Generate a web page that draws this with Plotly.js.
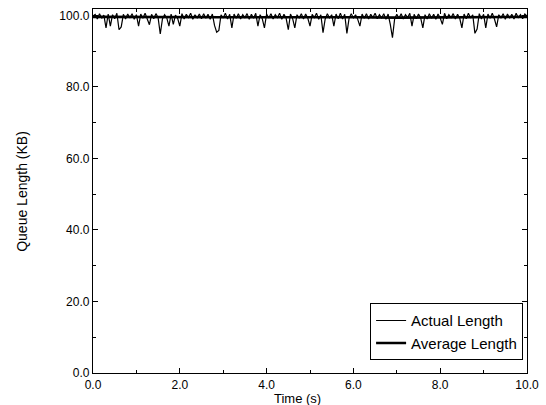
<!DOCTYPE html>
<html>
<head>
<meta charset="utf-8">
<script src="https://cdn.plot.ly/plotly-3.0.1.min.js"></script>
<style>html,body{margin:0;padding:0;background:#fff;}#chart{width:546px;height:405px;}</style>
</head>
<body>
<div id="chart"></div>
<script>
// Sample interval of the actual queue trace (s)
const sampleStep = 0.05;
// Actual queue length (KB), one value per sample
const actualLength = [
  99.8, 100.3, 99.0, 100.5, 99.2, 100.1, 96.5, 100.4, 97.0, 100.2,
  99.1, 100.6, 96.0, 96.8, 100.3, 99.0, 100.4, 99.3, 100.5, 98.9,
  100.2, 97.0, 100.4, 99.2, 100.6, 99.0, 97.4, 100.3, 99.1, 100.5,
  99.4, 94.8, 99.0, 100.2, 99.3, 97.0, 100.4, 97.5, 100.1, 99.2,
  97.0, 100.5, 99.0, 100.3, 99.4, 100.6, 98.9, 100.2, 99.3, 100.4,
  99.1, 100.5, 99.2, 100.3, 98.9, 100.4, 97.2, 95.3, 95.8, 100.2,
  99.3, 100.6, 99.0, 100.3, 96.5, 100.4, 99.2, 100.5, 99.0, 100.2,
  99.4, 100.5, 98.9, 100.3, 99.2, 100.6, 97.0, 100.2, 99.1, 96.5,
  100.4, 99.3, 100.5, 99.0, 100.2, 99.4, 100.6, 98.9, 100.3, 99.2,
  96.0, 100.4, 99.1, 96.5, 100.2, 99.3, 100.5, 99.0, 100.4, 99.2,
  97.0, 100.3, 99.4, 100.6, 98.9, 100.2, 95.2, 99.0, 100.5, 99.3,
  100.2, 97.0, 100.4, 99.1, 100.6, 99.0, 100.3, 95.0, 99.2, 100.5,
  99.3, 100.2, 98.9, 97.0, 100.4, 99.2, 100.5, 99.0, 100.3, 99.4,
  100.6, 99.1, 100.2, 99.3, 100.5, 98.9, 100.4, 97.5, 93.8, 99.0,
  100.3, 99.2, 100.5, 99.0, 100.2, 99.4, 100.6, 97.0, 100.3, 99.1,
  100.4, 99.3, 96.5, 100.2, 99.0, 100.5, 99.2, 100.3, 98.9, 100.4,
  99.3, 97.5, 100.6, 99.1, 100.2, 99.4, 100.5, 99.0, 100.3, 99.2,
  96.5, 100.4, 99.1, 100.6, 99.3, 100.2, 95.0, 96.2, 100.5, 99.0,
  100.3, 96.5, 100.4, 99.2, 100.6, 99.0, 96.8, 100.2, 99.3, 100.5,
  98.9, 100.4, 99.2, 100.3, 99.0, 100.6, 99.3, 100.2, 99.1, 100.4,
  99.8
];
// Average queue length (KB)
const avgTime = [0, 1, 2, 3, 4, 5, 6, 7, 8, 9, 10];
const averageLength = [99.6, 99.5, 99.4, 99.5, 99.5, 99.6, 99.5, 99.4, 99.5, 99.5, 99.6];
// Tick labels
const xTickVals = [0, 2, 4, 6, 8, 10];
const xTickText = ["0.0", "2.0", "4.0", "6.0", "8.0", "10.0"];
const yTickVals = [0, 20, 40, 60, 80, 100];
const yTickText = ["0.0", "20.0", "40.0", "60.0", "80.0", "100.0"];

const actualTime = actualLength.map((v, i) => +(i * sampleStep).toFixed(2));

const fam = "Liberation Sans, Arial, sans-serif";
const tickFont = {family: fam, size: 12, color: "#000"};
const titleFont = {family: fam, size: 14, color: "#000"};
const xTitleFont = {family: fam, size: 13, color: "#000"};
const legendFont = {family: fam, size: 15, color: "#000"};

const traces = [
  {x: actualTime, y: actualLength, type: "scatter", mode: "lines", name: "Actual Length",
   line: {color: "#000", width: 1.2}},
  {x: avgTime, y: averageLength, type: "scatter", mode: "lines", name: "Average Length",
   line: {color: "#000", width: 2.6}}
];

const axisCommon = {
  showline: true, linecolor: "#000", linewidth: 1.2, mirror: "allticks",
  ticks: "inside", ticklen: 5, tickcolor: "#000", tickwidth: 1,
  showgrid: false, zeroline: false, tickfont: tickFont
};

const layout = {
  width: 546, height: 405,
  margin: {l: 93, r: 19, t: 9, b: 32},
  paper_bgcolor: "#fff", plot_bgcolor: "#fff",
  font: tickFont,
  showlegend: true,
  legend: {x: 0.991, xanchor: "right", y: 0.035, yanchor: "bottom",
           bgcolor: "#fff", bordercolor: "#000", borderwidth: 1,
           font: legendFont, tracegroupgap: 0},
  xaxis: Object.assign({}, axisCommon, {
    range: [0, 10], tickvals: xTickVals, ticktext: xTickText,
    minor: {dtick: 1, ticks: "inside", ticklen: 3, tickcolor: "#000"}
  }),
  yaxis: Object.assign({}, axisCommon, {
    range: [0, 101.8], tickvals: yTickVals, ticktext: yTickText,
    minor: {dtick: 10, ticks: "inside", ticklen: 3, tickcolor: "#000"}
  }),
  annotations: [
    {text: "Time (s)", xref: "paper", yref: "paper", x: 0.472, y: -0.069,
     xanchor: "center", yanchor: "middle", showarrow: false, font: xTitleFont},
    {text: "Queue Length (KB)", xref: "paper", yref: "paper", x: -0.164, y: 0.5,
     xanchor: "center", yanchor: "middle", textangle: -90, showarrow: false, font: titleFont}
  ]
};

Plotly.newPlot("chart", traces, layout, {displayModeBar: false, staticPlot: true});
</script>
</body>
</html>
